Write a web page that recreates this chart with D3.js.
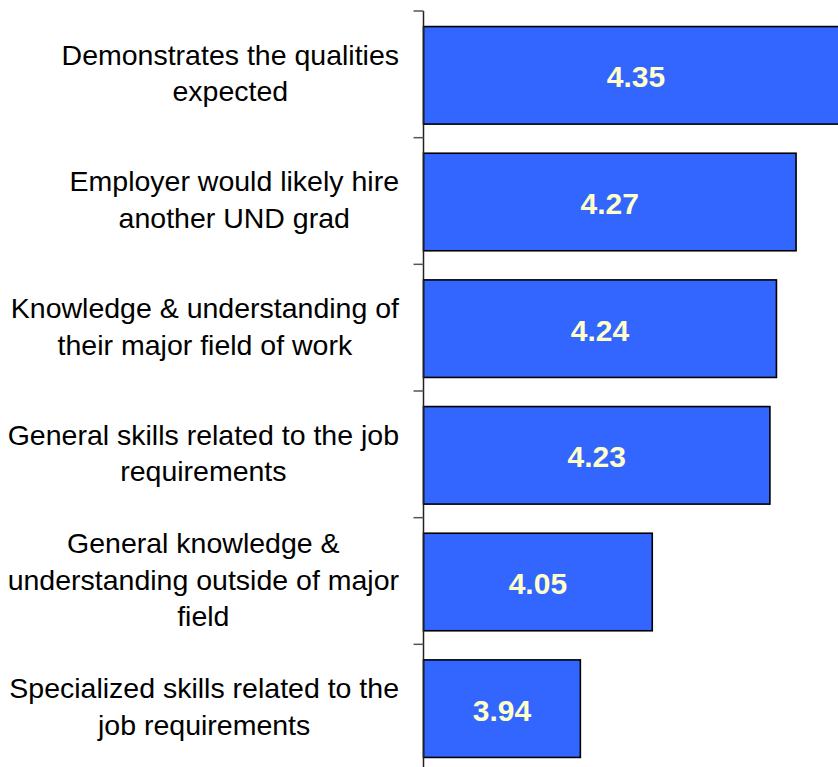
<!DOCTYPE html>
<html>
<head>
<meta charset="utf-8">
<script src="https://cdn.jsdelivr.net/npm/d3@7"></script>
<style>
	body { margin: 0; background: #fff; }
	svg { display: block; }
	text { font-family: Arial, "Liberation Sans", sans-serif; }
</style>
</head>
<body>
<svg id="chart" width="838" height="767"></svg>
<script>

// Category labels, one entry per line of the wrapped label
const categories = [
	["Demonstrates the qualities", "expected"],
	["Employer would likely hire", "another UND grad"],
	["Knowledge & understanding of", "their major field of work"],
	["General skills related to the job", "requirements"],
	["General knowledge &", "understanding outside of major", "field"],
	["Specialized skills related to the", "job requirements"]
];

const values = [4.35, 4.27, 4.24, 4.23, 4.05, 3.94];

const xDomain = [3.7, 4.4];

const width = 838,
	  height = 767,
	  axisX = 423.5;

const svg = d3.select("#chart");

const keys = categories.map((d, i) => i);

const y = d3.scaleBand()
			.domain(keys)
			.range([11, 771])
			.paddingInner(0.23)
			.paddingOuter(0.115);

const x = d3.scaleLinear()
			.domain(xDomain)
			.range([axisX, axisX + 0.7 * 653.6]);

const gap = (y.step() - y.bandwidth()) / 2;

// Bars (shifted 1px down to sit like the original)
svg.append("g")
	.selectAll("rect")
	.data(values)
	.join("rect")
		.attr("x", x(xDomain[0]))
		.attr("y", (d, i) => y(i) + 1)
		.attr("width", d => x(d) - x(xDomain[0]))
		.attr("height", y.bandwidth())
		.attr("fill", "#3366FF")
		.attr("stroke", "#000")
		.attr("stroke-width", 1.6);

// Value labels, centred in each bar
svg.append("g")
	.selectAll("text")
	.data(values)
	.join("text")
		.attr("x", d => (x(xDomain[0]) + x(d)) / 2)
		.attr("y", (d, i) => y(i) + 1 + y.bandwidth() / 2)
		.attr("dy", "0.4em")
		.attr("text-anchor", "middle")
		.attr("font-size", 30)
		.attr("font-weight", "bold")
		.attr("fill", "#FFFFCC")
		.text(d => d3.format(".2f")(d));

// Axis line and ticks at the band boundaries
const axis = svg.append("g");

axis.append("line")
	.attr("x1", axisX).attr("x2", axisX)
	.attr("y1", y.range()[0]).attr("y2", height + 5)
	.attr("stroke", "#222")
	.attr("stroke-width", 1.5);

const tickYs = keys.map(i => y(i) - gap).concat([y(keys.length - 1) + y.bandwidth() + gap]);

axis.selectAll(".tick")
	.data(tickYs)
	.join("line")
		.classed("tick", true)
		.attr("x1", axisX - 10).attr("x2", axisX)
		.attr("y1", d => d).attr("y2", d => d)
		.attr("stroke", "#555")
		.attr("stroke-width", 1.5);

// Category labels: block right-aligned, lines centred within the block
const lineHeight = 36.7,
	  labelRight = 399;

const labels = svg.append("g")
	.selectAll("text")
	.data(categories)
	.join("text")
		.attr("font-size", 28.5)
		.attr("fill", "#000")
		.attr("text-anchor", "middle");

labels.each(function(lines, i) {

	const t = d3.select(this);
	const cy = y(i) + y.bandwidth() / 2;
	const top = cy - (lines.length - 1) * lineHeight / 2;

	lines.forEach((s, j) => {
		t.append("tspan")
			.attr("y", top + j * lineHeight)
			.attr("dy", "0.3em")
			.text(s);
	});

	let maxW = 0;
	t.selectAll("tspan").each(function() {
		maxW = Math.max(maxW, this.getComputedTextLength());
	});

	t.selectAll("tspan").attr("x", labelRight - maxW / 2);
});

</script>
</body>
</html>
